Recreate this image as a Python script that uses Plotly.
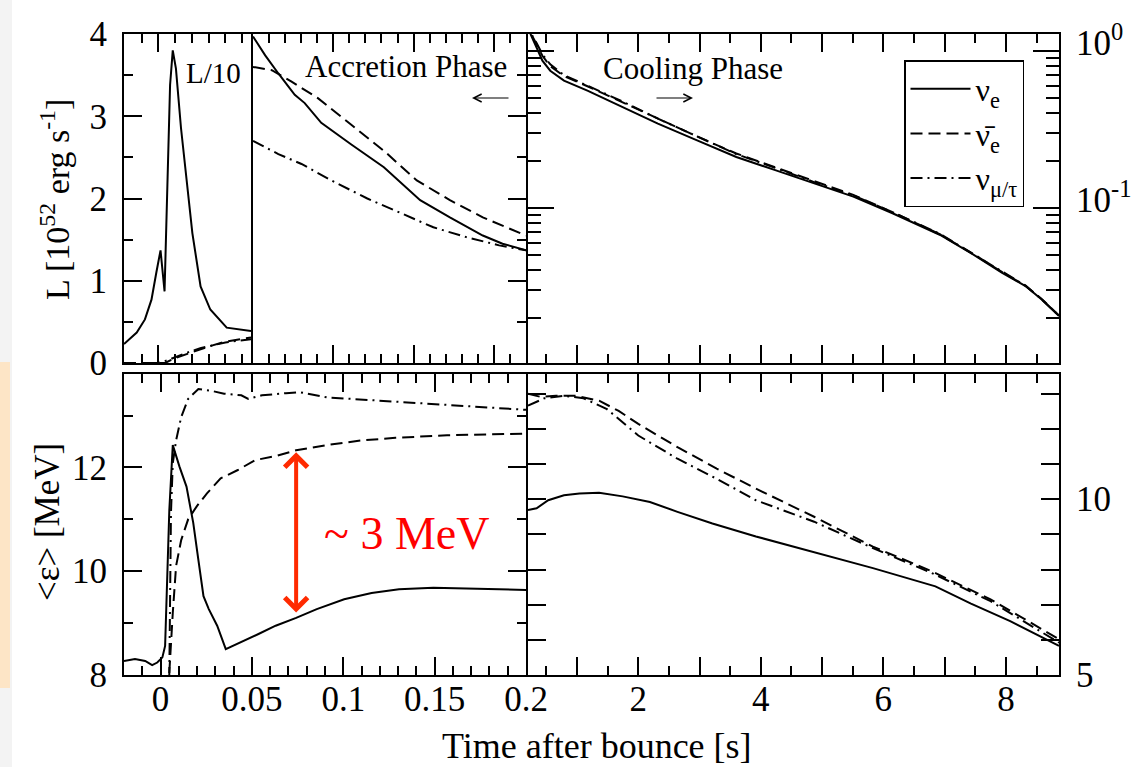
import numpy as np
import plotly.graph_objects as go

W, H = 1137, 767
SERIF = "Liberation Serif, Times New Roman, serif"

# ---------------- data ----------------
# Panel A: luminosity (L/10 for nu_e), 1e52 erg/s, early times [s]
tA_nue = [-0.0205, -0.0129, -0.008, -0.0041, -0.0012, 0.0013, 0.0037, 0.0057, 0.007, 0.0086,
          0.0105, 0.0135, 0.0164, 0.0203, 0.0252, 0.031, 0.0408, 0.0553]
LA_nue = [0.23, 0.37, 0.53, 0.77, 1.1, 1.37, 0.87, 2.38, 3.38, 3.8,
          3.58, 2.86, 2.3, 1.58, 0.93, 0.65, 0.43, 0.39]
tA_anue = [-0.0205, 0.004, 0.01, 0.02, 0.03, 0.04, 0.0553]
LA_anue = [0.0, 0.0, 0.06, 0.13, 0.2, 0.26, 0.31]
tA_nux = [-0.0205, 0.0, 0.005, 0.015, 0.025, 0.04, 0.0553]
LA_nux = [0.0, 0.0, 0.03, 0.11, 0.18, 0.25, 0.29]

# Panel B: accretion phase luminosity
tB_nue = [0.05, 0.0576, 0.0658, 0.076, 0.0822, 0.0925, 0.111, 0.1315, 0.1541, 0.1726, 0.1931, 0.2054, 0.22]
LB_nue = [3.97, 3.74, 3.52, 3.26, 3.16, 2.92, 2.66, 2.38, 1.98, 1.77, 1.55, 1.45, 1.37]
tB_anue = [0.05, 0.0617, 0.074, 0.0904, 0.111, 0.1315, 0.152, 0.1726, 0.1931, 0.22]
LB_anue = [3.6, 3.56, 3.42, 3.22, 2.9, 2.58, 2.22, 1.98, 1.77, 1.55]
tB_nux = [0.05, 0.0658, 0.0802, 0.1007, 0.1212, 0.1418, 0.1623, 0.1829, 0.2033, 0.22]
LB_nux = [2.7, 2.54, 2.42, 2.2, 2.0, 1.82, 1.65, 1.53, 1.43, 1.37]

# Panel C: cooling phase luminosity (log)
tC = [0.2, 0.244, 0.34, 0.435, 0.563, 0.787, 1.17, 1.745, 2.32, 2.96, 3.6, 4.235, 4.87,
      5.51, 6.15, 6.92, 7.43, 7.94, 8.32, 8.58, 8.867]
LC_nue = [1.6, 1.27, 1.05, 0.865, 0.747, 0.646, 0.558, 0.438, 0.344, 0.269, 0.211, 0.174, 0.143,
          0.118, 0.0925, 0.0675, 0.0516, 0.0386, 0.0318, 0.0262, 0.0205]
LC_anue = [1.6, 1.3, 1.1, 0.93, 0.8, 0.69, 0.595, 0.47, 0.368, 0.285, 0.222, 0.181, 0.148,
           0.121, 0.094, 0.068, 0.052, 0.039, 0.032, 0.0264, 0.0207]
LC_nux = [1.6, 1.3, 1.12, 0.95, 0.82, 0.7, 0.6, 0.475, 0.37, 0.284, 0.22, 0.18, 0.146,
          0.12, 0.094, 0.0685, 0.052, 0.039, 0.032, 0.0263, 0.0206]

# Panel D: mean energies, early times [MeV]
tD_nue = [-0.02, -0.014, -0.0084, -0.0046, -0.0018, 0.001, 0.0025, 0.0038, 0.0048, 0.0067, 0.0104,
          0.0142, 0.0179, 0.0207, 0.0235, 0.0264, 0.031, 0.0357, 0.044, 0.0536, 0.063, 0.0742,
          0.0855, 0.1005, 0.1155, 0.1305, 0.1493, 0.1756, 0.2]
ED_nue = [8.27, 8.31, 8.27, 8.19, 8.24, 8.34, 8.56, 9.84, 11.18, 12.43, 12.01,
          11.63, 10.93, 10.22, 9.52, 9.27, 8.95, 8.5, 8.63, 8.79, 8.95, 9.1,
          9.27, 9.46, 9.58, 9.65, 9.68, 9.66, 9.64]
tD_anue = [0.0042, 0.0048, 0.0067, 0.0085, 0.0113, 0.0151, 0.0198, 0.0254, 0.0329, 0.0423, 0.0517,
           0.063, 0.0742, 0.0911, 0.1099, 0.1286, 0.1568, 0.2]
ED_anue = [7.0, 8.05, 9.2, 10.1, 10.6, 11.0, 11.25, 11.5, 11.79, 11.95, 12.14,
           12.22, 12.33, 12.43, 12.52, 12.57, 12.62, 12.65]
tD_nux = [0.0045, 0.0057, 0.0067, 0.0085, 0.0113, 0.0151, 0.0207, 0.0273, 0.0348, 0.0442, 0.048,
          0.0555, 0.0686, 0.0761, 0.0911, 0.1193, 0.1474, 0.1756, 0.2]
ED_nux = [7.0, 11.12, 12.08, 12.52, 12.97, 13.32, 13.51, 13.48, 13.42, 13.39, 13.32,
          13.39, 13.43, 13.45, 13.35, 13.29, 13.23, 13.16, 13.11]

# Panel E: mean energies, cooling phase
tE_nue = [0.2, 0.34, 0.53, 0.787, 1.04, 1.36, 1.745, 2.19, 2.64, 3.21, 3.92, 4.94, 5.83, 6.85, 7.43, 8.07, 8.867]
EE_nue = [9.69, 9.74, 9.97, 10.11, 10.16, 10.18, 10.08, 9.92, 9.64, 9.31, 8.94, 8.47, 8.04, 7.52, 7.03, 6.53, 5.83]
tE_anue = [0.2, 0.404, 0.659, 0.978, 1.361, 1.68, 2.0, 2.32, 2.64, 3.28, 3.92, 4.87, 5.83, 6.79, 7.75, 8.867]
EE_anue = [13.0, 12.91, 12.94, 12.94, 12.8, 12.51, 12.14, 11.81, 11.48, 10.87, 10.3, 9.5, 8.65, 7.95, 7.15, 6.02]
tE_nux = [0.2, 0.468, 0.787, 1.106, 1.489, 2.0, 2.64, 3.28, 3.92, 4.87, 5.83, 6.79, 7.75, 8.867]
EE_nux = [12.66, 12.87, 12.94, 12.87, 12.56, 11.81, 11.15, 10.58, 9.97, 9.36, 8.61, 7.9, 7.1, 5.92]

legend_names = ["ν<sub>e</sub>", "ν\u0304<sub>e</sub>", "ν<sub>μ/τ</sub>"]
x_ticks_early = [0, 0.05, 0.1, 0.15, 0.2]
x_ticklabels_early = ["0", "0.05", "0.1", "0.15", "0.2"]
x_ticks_late = [1, 2, 3, 4, 5, 6, 7, 8]
x_ticklabels_late = ["", "2", "", "4", "", "6", "", "8"]
y_ticks_E = [5, 6, 7, 8, 9, 10, 11, 12, 13]
y_ticklabels_E = ["5", "", "", "", "", "10", "", "", ""]
y_ticks_C = [0.01, 0.1, 1]
y_ticklabels_C = ["10<sup>-2</sup>", "10<sup>-1</sup>", "10<sup>0</sup>"]
arrow_time = 0.0742

# ---------------- layout helpers ----------------
def fx(p):
    return p / W


def fy(p):
    return 1 - p / H


DASH = {"solid": "solid", "dash": "12px,6px", "dashdot": "12px,5px,2px,5px"}
fig = go.Figure()


def add(xs, ys, style, xa, ya, name=None, show=False):
    fig.add_trace(go.Scatter(x=xs, y=ys, mode="lines",
                             line=dict(color="black", width=2, dash=DASH[style]),
                             xaxis=xa, yaxis=ya, name=name, showlegend=show,
                             hoverinfo="skip"))


add(tA_nue, LA_nue, "solid", "x", "y")
add(tA_anue, LA_anue, "dash", "x", "y")
add(tA_nux, LA_nux, "dashdot", "x", "y")
add(tB_nue, LB_nue, "solid", "x2", "y2")
add(tB_anue, LB_anue, "dash", "x2", "y2")
add(tB_nux, LB_nux, "dashdot", "x2", "y2")
add(tC, LC_nue, "solid", "x3", "y3", legend_names[0], True)
add(tC, LC_anue, "dash", "x3", "y3", legend_names[1], True)
add(tC, LC_nux, "dashdot", "x3", "y3", legend_names[2], True)
add(tD_nue, ED_nue, "solid", "x4", "y4")
add(tD_anue, ED_anue, "dash", "x4", "y4")
add(tD_nux, ED_nux, "dashdot", "x4", "y4")
add(tE_nue, EE_nue, "solid", "x5", "y5")
add(tE_anue, EE_anue, "dash", "x5", "y5")
add(tE_nux, EE_nux, "dashdot", "x5", "y5")

TF = dict(family=SERIF, size=35, color="black")


def axis(**kw):
    base = dict(showline=True, linecolor="black", linewidth=2, mirror="ticks",
                ticks="inside", tickcolor="black", tickwidth=1.5, ticklen=18,
                showgrid=False, zeroline=False, tickfont=TF, fixedrange=True,
                automargin=False)
    base.update(kw)
    return base


def minor(**kw):
    base = dict(ticks="inside", ticklen=9, tickcolor="black", tickwidth=1.5, showgrid=False)
    base.update(kw)
    return base


top = [fy(363), fy(34)]
bot = [fy(675), fy(374)]
xA = [fx(124), fx(251)]
xB = [fx(253), fx(526)]
xC = [fx(528), fx(1059)]
xD = [fx(124), fx(526)]
xE = [fx(528), fx(1059)]

minor_log = [m * 10.0 ** e for e in (-2, -1, 0) for m in range(2, 10)]

fig.update_layout(
    width=W, height=H, autosize=False,
    margin=dict(l=0, r=0, t=0, b=0, pad=0, autoexpand=False),
    paper_bgcolor="white", plot_bgcolor="white",
    font=dict(family=SERIF, color="black"),
    xaxis=axis(domain=xA, range=[-0.0205, 0.0553], anchor="y", tickmode="array", tickvals=[0],
               showticklabels=False, minor=minor(tickmode="linear", tick0=0, dtick=0.01)),
    yaxis=axis(domain=top, range=[0, 4], anchor="x", dtick=1, tick0=0, mirror=True,
               ticklabelstandoff=8, minor=minor(tickmode="linear", tick0=0, dtick=0.5)),
    xaxis2=axis(domain=xB, range=[0.05, 0.22], anchor="y2", tickmode="array",
                tickvals=[0.1, 0.15, 0.2], showticklabels=False,
                minor=minor(tickmode="linear", tick0=0, dtick=0.01)),
    yaxis2=axis(domain=top, range=[0, 4], anchor="x2", side="right", dtick=1, tick0=0,
                showline=False, mirror=False, showticklabels=False,
                minor=minor(tickmode="linear", tick0=0, dtick=0.5)),
    xaxis3=axis(domain=xC, range=[0.2, 8.867], anchor="y3", tickmode="array",
                tickvals=x_ticks_late, showticklabels=False,
                minor=minor(tickmode="linear", tick0=0, dtick=0.5)),
    yaxis3=axis(domain=top, type="log", range=[-1.987, 0.107], anchor="x3", side="right",
                tickmode="array", tickvals=y_ticks_C, ticktext=y_ticklabels_C, ticklen=26,
                ticklabelstandoff=8, ticklabelshift=-8,
                minor=minor(tickmode="array", tickvals=minor_log, ticklen=13)),
    xaxis4=axis(domain=xD, range=[-0.02, 0.2], anchor="y4", tickmode="array",
                tickvals=x_ticks_early, ticktext=x_ticklabels_early, ticklabelstandoff=-8,
                minor=minor(tickmode="linear", tick0=0, dtick=0.01)),
    yaxis4=axis(domain=bot, range=[8, 13.8], anchor="x4", dtick=2, tick0=8,
                ticklabelstandoff=8, minor=minor(tickmode="linear", tick0=0, dtick=1)),
    xaxis5=axis(domain=xE, range=[0.2, 8.867], anchor="y5", tickmode="array",
                tickvals=x_ticks_late, ticktext=x_ticklabels_late, ticklabelstandoff=-8,
                minor=minor(tickmode="linear", tick0=0, dtick=0.5)),
    yaxis5=axis(domain=bot, range=[5, 13.56], anchor="x5", side="right", tickmode="array",
                tickvals=y_ticks_E, ticktext=y_ticklabels_E, ticklabelstandoff=8),
    legend=dict(x=fx(904), y=fy(60), xanchor="left", yanchor="top", bgcolor="white",
                bordercolor="black", borderwidth=1.5, itemwidth=60,
                font=dict(family=SERIF, size=32, color="black"), tracegroupgap=0),
)

# decorative strip at the left edge of the screenshot
fig.add_shape(type="rect", xref="paper", yref="paper", x0=0, x1=fx(12), y0=0, y1=1,
              fillcolor="#f3f3f3", line_width=0, layer="below")
fig.add_shape(type="rect", xref="paper", yref="paper", x0=0, x1=fx(10), y0=fy(688), y1=fy(362),
              fillcolor="#fde5c6", line_width=0, layer="below")


def text_ann(x, y, text, size, color="black", angle=0):
    return dict(xref="paper", yref="paper", x=fx(x), y=fy(y), text=text, showarrow=False,
                xanchor="center", yanchor="middle", textangle=angle,
                font=dict(family=SERIF, size=size, color=color))


ann = [
    text_ann(213, 73, "L/10", 29),
    text_ann(406, 67, "Accretion Phase", 31),
    text_ann(693, 68, "Cooling Phase", 31),
    text_ann(55, 200, "L [10<sup>52</sup> erg s<sup>-1</sup>]", 34, angle=-90),
    text_ann(47, 522, "&lt;ε&gt; [MeV]", 35, angle=-90),
    text_ann(597, 746, "Time after bounce [s]", 36),
    text_ann(406, 533, "~ 3 MeV", 46, color="#ff0000"),
]
# small phase arrows
ann.append(dict(xref="paper", yref="paper", x=fx(472), y=fy(98), ax=38, ay=0, text="",
                showarrow=True, arrowhead=5, arrowsize=1.3, arrowwidth=1.2, arrowcolor="black"))
ann.append(dict(xref="paper", yref="paper", x=fx(693), y=fy(98), ax=-38, ay=0, text="",
                showarrow=True, arrowhead=5, arrowsize=1.3, arrowwidth=1.2, arrowcolor="black"))
# red double arrow between nu_e and anti-nu_e mean energies
y_hi = float(np.interp(arrow_time, tD_anue, ED_anue))
y_lo = float(np.interp(arrow_time, tD_nue, ED_nue))
ann.append(dict(xref="x4", yref="y4", axref="x4", ayref="y4", x=arrow_time, y=y_hi,
                ax=arrow_time, ay=y_lo, text="", showarrow=True, arrowside="end+start",
                arrowhead=4, startarrowhead=4, arrowsize=1.1, startarrowsize=1.1,
                arrowwidth=4, arrowcolor="#ff2a00", standoff=2, startstandoff=4))
fig.update_layout(annotations=ann)

fig.write_html("out.html")
